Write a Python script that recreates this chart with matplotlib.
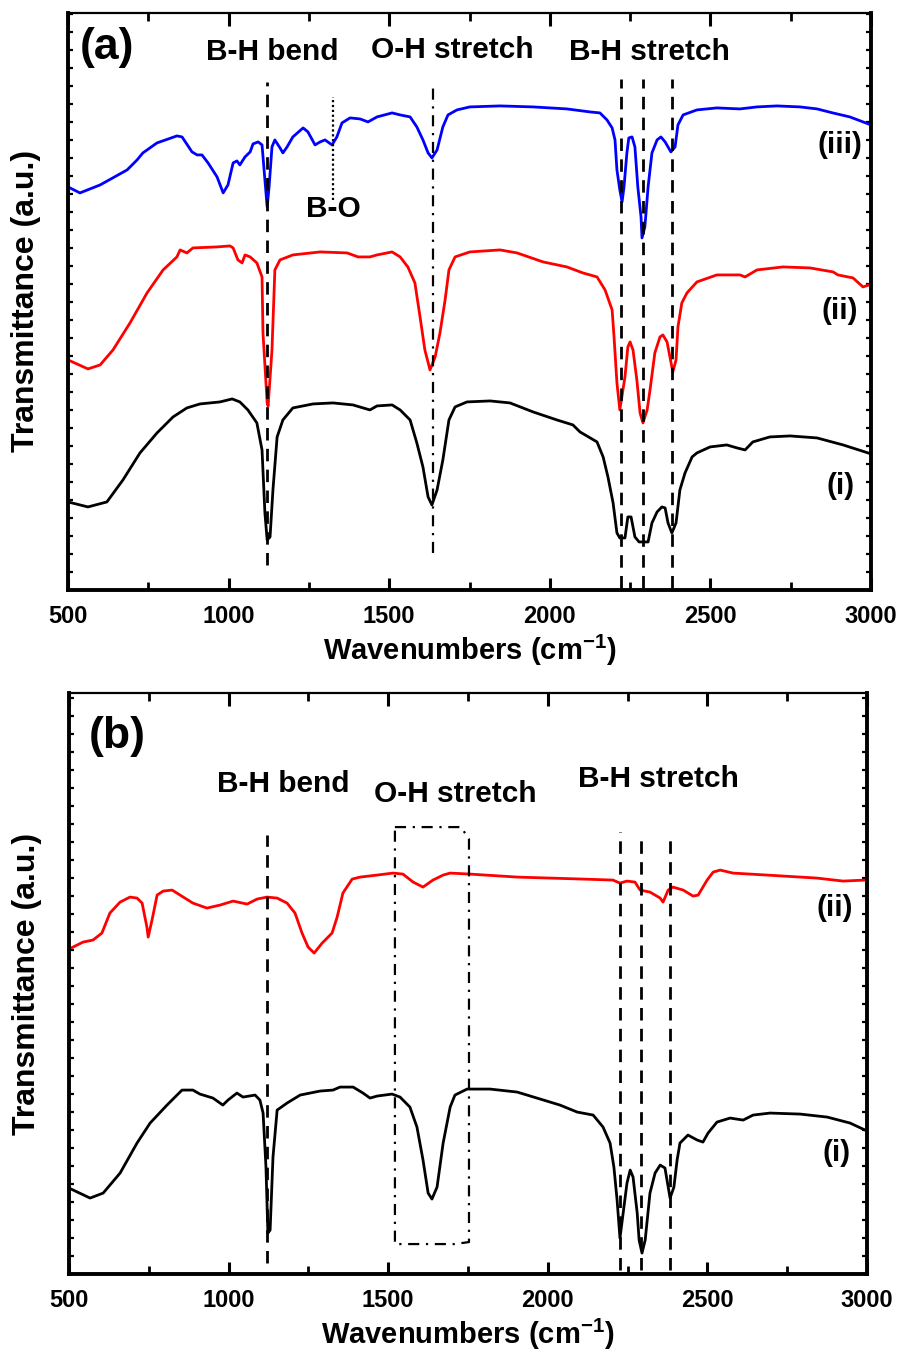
import matplotlib
matplotlib.use('Agg')
import matplotlib.pyplot as plt
from matplotlib.ticker import MultipleLocator, NullFormatter

plt.rcParams['font.family'] = ['Liberation Sans', 'DejaVu Sans']
plt.rcParams['font.weight'] = 'bold'
plt.rcParams['mathtext.fontset'] = 'custom'
plt.rcParams['mathtext.rm'] = 'Liberation Sans:bold'
plt.rcParams['mathtext.default'] = 'rm'

# ---- panel (a) : FTIR spectra, transmittance in a.u. ----
a3_wn = [500, 537, 600, 684, 715, 733, 777, 839, 855, 886, 902, 917, 936, 964, 983, 998,
         1014, 1026, 1035, 1051, 1067, 1076, 1092, 1104, 1113, 1120, 1126, 1135, 1144, 1160,
         1169, 1182, 1200, 1232, 1247, 1269, 1285, 1300, 1322, 1337, 1353, 1378, 1409, 1434,
         1462, 1509, 1534, 1565, 1586, 1605, 1621, 1633, 1649, 1667, 1683, 1711, 1751, 1845,
         1948, 2053, 2125, 2156, 2178, 2194, 2203, 2209, 2218, 2225, 2231, 2240, 2246, 2256,
         2265, 2274, 2284, 2287, 2296, 2306, 2318, 2334, 2346, 2359, 2377, 2390, 2399, 2415,
         2458, 2520, 2592, 2645, 2707, 2779, 2832, 2881, 2934, 3000]
a3_tr = [403, 397, 405, 420, 430, 437, 447, 454, 453, 438, 435, 435, 427, 413, 397, 405,
         427, 429, 425, 433, 438, 446, 448, 445, 410, 383, 403, 443, 450, 442,
         437, 443, 453, 462, 458, 445, 448, 450, 445, 453, 467, 472, 471, 468,
         473, 477, 475, 473, 463, 450, 437, 432, 440, 463, 475, 480, 483, 484,
         483, 481, 478, 477, 470, 462, 450, 420, 400, 388, 403, 437, 452, 453,
         443, 403, 373, 352, 363, 403, 437, 450, 453, 448, 438, 443, 465, 475,
         480, 482, 481, 483, 484, 483, 481, 477, 473, 465]

a2_wn = [500, 562, 600, 640, 693, 746, 796, 839, 849, 870, 889, 964, 1004, 1014, 1029, 1042,
         1051, 1067, 1088, 1104, 1107, 1120, 1123, 1135, 1144, 1160, 1200, 1285, 1369, 1403,
         1440, 1462, 1509, 1534, 1558, 1580, 1596, 1611, 1627, 1643, 1658, 1674, 1686, 1705,
         1751, 1845, 1898, 1979, 2053, 2103, 2147, 2172, 2194, 2200, 2209, 2218, 2234, 2243,
         2250, 2259, 2271, 2281, 2290, 2303, 2312, 2327, 2343, 2352, 2365, 2374, 2383, 2393,
         2399, 2411, 2427, 2458, 2520, 2592, 2608, 2645, 2726, 2810, 2882, 2897, 2944, 2975,
         2994, 3000]
a2_tr = [230, 221, 225, 240, 267, 297, 320, 333, 340, 337, 342, 343, 344, 342, 330, 327,
         335, 333, 327, 313, 257, 187, 184, 240, 320, 330, 335, 338, 337, 333,
         333, 335, 338, 333, 323, 307, 273, 240, 220, 233, 257, 290, 320, 333,
         338, 340, 337, 328, 323, 317, 313, 300, 280, 253, 207, 180, 213, 243,
         248, 240, 210, 177, 167, 180, 200, 237, 253, 255, 248, 233, 218, 230,
         263, 287, 297, 308, 315, 315, 313, 320, 323, 322, 318, 315, 312, 303,
         305, 306]

a1_wn = [500, 562, 621, 671, 724, 777, 827, 870, 911, 973, 1011, 1035, 1060, 1088, 1104, 1113,
         1120, 1129, 1138, 1151, 1169, 1200, 1263, 1325, 1387, 1440, 1462, 1509, 1534, 1565,
         1586, 1605, 1621, 1633, 1649, 1667, 1686, 1705, 1742, 1814, 1876, 1948, 2022, 2072,
         2094, 2147, 2166, 2181, 2197, 2209, 2218, 2234, 2243, 2253, 2265, 2278, 2306, 2318,
         2334, 2349, 2359, 2368, 2380, 2393, 2405, 2421, 2443, 2458, 2499, 2551, 2583, 2608,
         2632, 2685, 2748, 2832, 2913, 2991, 3000]
a1_tr = [88, 83, 88, 110, 137, 157, 173, 182, 186, 188, 191, 188, 180, 167, 140, 77,
         50, 53, 100, 153, 170, 182, 186, 187, 185, 180, 184, 185, 180, 170,
         147, 123, 93, 85, 100, 130, 170, 183, 188, 189, 187, 178, 170, 165,
         158, 148, 133, 113, 87, 57, 52, 52, 73, 73, 53, 48, 48, 67,
         78, 83, 82, 67, 57, 67, 100, 117, 133, 137, 143, 145, 142, 140,
         148, 153, 154, 152, 145, 137, 136]

# ---- panel (b) ----
b2_wn = [500, 544, 575, 603, 628, 660, 691, 713, 729, 744, 748, 760, 776, 795, 823, 848,
         888, 932, 973, 1014, 1058, 1089, 1120, 1152, 1183, 1208, 1230, 1249, 1268, 1293,
         1324, 1340, 1358, 1387, 1412, 1465, 1515, 1546, 1578, 1609, 1640, 1672, 1694, 1756,
         1904, 2110, 2204, 2226, 2248, 2273, 2289, 2320, 2352, 2361, 2377, 2392, 2424, 2455,
         2471, 2499, 2518, 2540, 2580, 2687, 2843, 2925, 2994, 3000]
b2_tr = [325, 332, 334, 341, 361, 372, 377, 376, 371, 347, 337, 354, 379, 383, 384, 379,
         371, 366, 369, 373, 370, 375, 377, 376, 371, 361, 341, 327, 321, 331,
         341, 357, 381, 395, 397, 399, 401, 400, 392, 387, 394, 399, 401, 400,
         397, 395, 394, 391, 393, 392, 384, 382, 376, 372, 384, 387, 384, 378,
         379, 394, 402, 404, 401, 399, 396, 393, 394, 394]

b1_wn = [500, 566, 607, 660, 713, 754, 807, 854, 888, 910, 951, 982, 998, 1026, 1045, 1083,
         1098, 1108, 1117, 1123, 1130, 1139, 1152, 1183, 1224, 1286, 1327, 1349, 1390, 1421,
         1443, 1465, 1512, 1537, 1568, 1590, 1609, 1625, 1637, 1653, 1672, 1694, 1709, 1747,
         1819, 1904, 1966, 2038, 2092, 2142, 2173, 2195, 2207, 2217, 2226, 2236, 2248, 2258,
         2267, 2280, 2286, 2295, 2305, 2320, 2336, 2352, 2367, 2383, 2395, 2405, 2414, 2439,
         2468, 2486, 2502, 2530, 2571, 2612, 2643, 2696, 2790, 2875, 2947, 2994, 3000]
b1_tr = [86, 76, 81, 101, 131, 151, 169, 184, 184, 180, 176, 169, 174, 181, 177, 179,
         174, 161, 107, 41, 44, 117, 164, 171, 179, 183, 184, 187, 187, 181,
         176, 178, 180, 177, 167, 147, 114, 81, 75, 87, 131, 167, 179, 185,
         185, 182, 176, 169, 162, 159, 147, 131, 107, 74, 36, 61, 91, 104,
         97, 61, 34, 21, 34, 81, 101, 109, 106, 76, 87, 114, 131, 139,
         134, 132, 141, 152, 156, 154, 159, 161, 160, 157, 151, 144, 143]

# band positions (cm-1)
bh_bend = 1120
oh_stretch = 1635
bo_band = 1325
bh_stretch_a = [2222, 2290, 2379]
bh_stretch_b = [2225, 2293, 2384]
oh_box_b = [1521, 1753]

DASH = (0, (4.5, 3))
DASHDOT = (0, (5, 3, 1, 3))


def style_axes(ax, ymax):
    ax.set_xlim(500, 3000)
    ax.set_ylim(0, ymax)
    ax.xaxis.set_major_locator(MultipleLocator(500))
    ax.xaxis.set_minor_locator(MultipleLocator(250))
    ax.yaxis.set_major_locator(MultipleLocator(18))
    ax.yaxis.set_major_formatter(NullFormatter())
    ax.tick_params(axis='x', which='major', direction='in', length=9, width=2.2,
                   top=True, labelsize=17, pad=11)
    ax.tick_params(axis='x', which='minor', direction='in', length=6, width=2, top=True)
    ax.tick_params(axis='y', which='major', direction='in', length=3.5, width=1.6, right=True)
    for lab in ax.get_xticklabels():
        lab.set_fontweight('bold')
    for side in ['left', 'bottom', 'right']:
        ax.spines[side].set_linewidth(2.8)
    ax.spines['top'].set_linewidth(1.6)
    ax.set_xlabel('Wavenumbers (cm$^{-1}$)', fontsize=21, fontweight='bold', labelpad=3)
    ax.set_ylabel('Transmittance (a.u.)', fontsize=23, fontweight='bold', labelpad=16)


fig = plt.figure(figsize=(9.01, 13.59), dpi=100)

# panel (a)
ax1 = fig.add_axes([0.0755, 0.5659, 0.8912, 0.4246])
ax1.plot(a1_wn, a1_tr, color='black', lw=2)
ax1.plot(a2_wn, a2_tr, color='#ff0000', lw=2)
ax1.plot(a3_wn, a3_tr, color='#0000ff', lw=2)
ax1.plot([bh_bend, bh_bend], [25, 508], color='black', lw=2, linestyle=DASH)
ax1.plot([oh_stretch, oh_stretch], [37, 508], color='black', lw=1.6, linestyle=DASHDOT)
ax1.plot([bo_band, bo_band], [390, 493], color='black', lw=1.6, linestyle=(0, (1, 1.2)))
for wn in bh_stretch_a:
    ax1.plot([wn, wn], [2, 511], color='black', lw=2, linestyle=DASH)
ax1.text(621, 542, '(a)', fontsize=32, fontweight='bold', ha='center', va='center')
ax1.text(1135, 538, 'B-H bend', fontsize=21.5, fontweight='bold', ha='center', va='center')
ax1.text(1695, 540, 'O-H stretch', fontsize=21.5, fontweight='bold', ha='center', va='center')
ax1.text(2309, 538, 'B-H stretch', fontsize=21.5, fontweight='bold', ha='center', va='center')
ax1.text(1325, 381, 'B-O', fontsize=21.5, fontweight='bold', ha='center', va='center')
ax1.text(2972, 445, '(iii)', fontsize=21.5, fontweight='bold', ha='right', va='center')
ax1.text(2960, 279, '(ii)', fontsize=21.5, fontweight='bold', ha='right', va='center')
ax1.text(2948, 104, '(i)', fontsize=21.5, fontweight='bold', ha='right', va='center')
style_axes(ax1, 577)

# panel (b)
ax2 = fig.add_axes([0.0766, 0.0625, 0.8857, 0.4275])
ax2.plot(b1_wn, b1_tr, color='black', lw=2)
ax2.plot(b2_wn, b2_tr, color='#ff0000', lw=2)
ax2.plot([bh_bend, bh_bend], [11, 439], color='black', lw=2, linestyle=DASH)
for wn, top in zip(bh_stretch_b, [442, 434, 436]):
    ax2.plot([wn, wn], [4, top], color='black', lw=2, linestyle=DASH)
x0, x1 = oh_box_b
box_x = [x0, x1 - 25, x1, x1, x1 - 45, x0, x0]
box_y = [447, 447, 435, 32, 30, 30, 447]
ax2.plot(box_x, box_y, color='black', lw=1.6, linestyle=DASHDOT)
ax2.text(650, 538, '(b)', fontsize=32, fontweight='bold', ha='center', va='center')
ax2.text(1170, 490, 'B-H bend', fontsize=21.5, fontweight='bold', ha='center', va='center')
ax2.text(1709, 480, 'O-H stretch', fontsize=21.5, fontweight='bold', ha='center', va='center')
ax2.text(2345, 495, 'B-H stretch', fontsize=21.5, fontweight='bold', ha='center', va='center')
ax2.text(2955, 366, '(ii)', fontsize=21.5, fontweight='bold', ha='right', va='center')
ax2.text(2948, 121, '(i)', fontsize=21.5, fontweight='bold', ha='right', va='center')
style_axes(ax2, 581)

fig.savefig('out.png', dpi=100)
